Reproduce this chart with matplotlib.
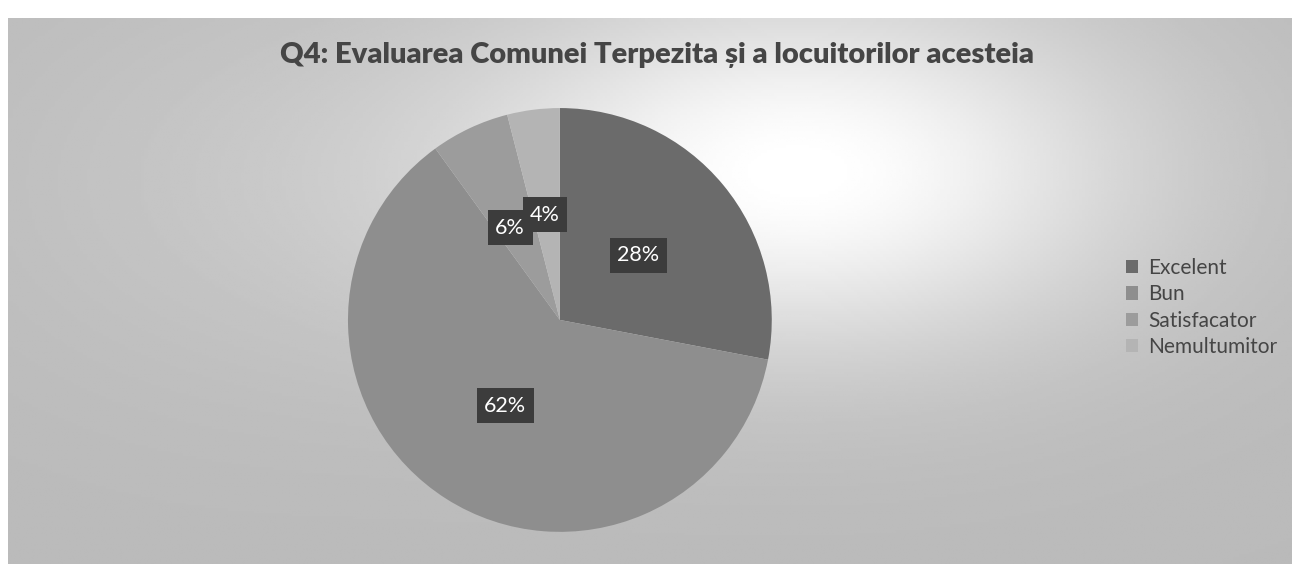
import matplotlib.pyplot as plt
import numpy as np
from matplotlib.patches import Patch

# data
categories = ['Excelent', 'Bun', 'Satisfacator', 'Nemultumitor']
shares = [28, 62, 6, 4]
colors = ['#6b6b6b', '#8e8e8e', '#9c9c9c', '#b4b4b4']
title = 'Q4: Evaluarea Comunei Terpezita și a locuitorilor acesteia'

plt.rcParams['font.family'] = ['Lato', 'DejaVu Sans']

fig = plt.figure(figsize=(12.96, 5.64), dpi=100)
fig.patch.set_facecolor('white')

# scanned, uneven grey background of the chart area
bg = fig.add_axes([0.006, 0.0, 0.99, 0.968])
bg.set_axis_off()
xx, yy = np.meshgrid(np.linspace(0, 1, 400), np.linspace(0, 1, 200))
shade = 0.73 + 0.27 * np.exp(-((xx - 0.62) / 0.26) ** 2 - ((yy - 0.28) / 0.33) ** 2)
shade = np.clip(shade + 0.04 * np.exp(-((xx - 0.2) / 0.25) ** 2 - ((yy - 0.3) / 0.4) ** 2), 0, 1)
bg.imshow(shade, cmap='gray', vmin=0, vmax=1, aspect='auto', extent=[0, 1, 1, 0])
bg.set_xlim(0, 1)
bg.set_ylim(1, 0)

ax = fig.add_axes([0.2685, 0.0567, 0.327, 0.752])
wedges, texts, autotexts = ax.pie(
    shares, colors=colors, startangle=90, counterclock=False,
    autopct='%d%%', pctdistance=0.48,
    wedgeprops=dict(linewidth=0),
    textprops=dict(color='white', fontsize=15.5),
)
for t in autotexts:
    t.set_bbox(dict(boxstyle='square,pad=0.35', facecolor='#3c3c3c', edgecolor='none'))
# the small labels overlap a little, as Excel placed them
x, y = autotexts[2].get_position()
autotexts[2].set_position((x - 0.03, y))
x, y = autotexts[3].get_position()
autotexts[3].set_position((x - 0.01, y + 0.02))
autotexts[2].set_zorder(autotexts[3].get_zorder() - 0.1)
ax.set_xlim(-1, 1)
ax.set_ylim(-1, 1)
ax.set_aspect('equal')

fig.text(0.507, 0.902, title, ha='center', va='center', fontsize=21,
         fontweight='heavy', color='#454545')

handles = [Patch(facecolor=c, edgecolor='none') for c in colors]
fig.legend(handles, categories, loc='center left', bbox_to_anchor=(0.854, 0.455),
           frameon=False, fontsize=15, labelcolor='#454545',
           handlelength=0.6, handleheight=0.6, handletextpad=0.5, labelspacing=0.3)

fig.savefig('out.png', dpi=100)
